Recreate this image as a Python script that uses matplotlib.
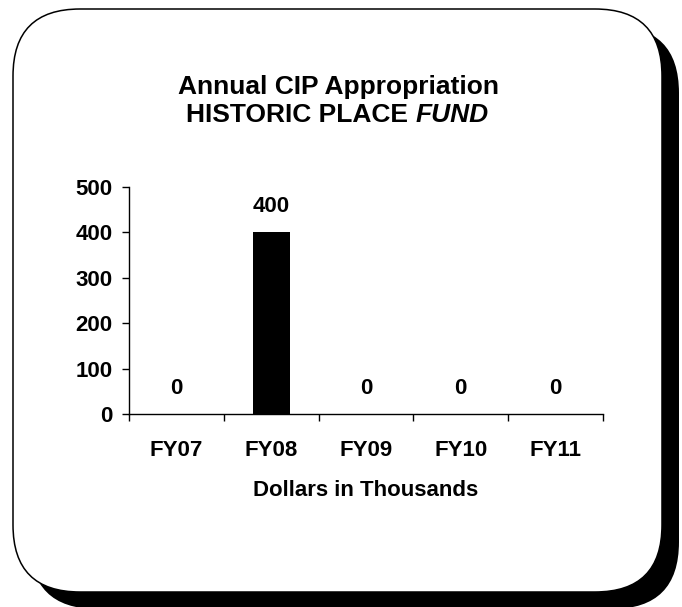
import matplotlib
matplotlib.use('agg')
import matplotlib.pyplot as plt
from matplotlib.patches import FancyBboxPatch
import numpy as np

plt.rcParams['font.family'] = ['Liberation Sans', 'DejaVu Sans']
plt.rcParams['font.weight'] = 'bold'

# data
years = ['FY07', 'FY08', 'FY09', 'FY10', 'FY11']
amounts = [0, 400, 0, 0, 0]
yticks = [0, 100, 200, 300, 400, 500]

W, H = 682, 607
fig = plt.figure(figsize=(W / 100, H / 100), dpi=100)

# background frame with shadow, drawn in pixel coords
bg = fig.add_axes([0, 0, 1, 1])
bg.set_xlim(0, W)
bg.set_ylim(H, 0)
bg.axis('off')
shadow = FancyBboxPatch((30, 26), 649, 583, boxstyle='round,pad=0,rounding_size=67',
                        fc='black', ec='black', lw=0)
frame = FancyBboxPatch((13, 9), 649, 583, boxstyle='round,pad=0,rounding_size=67',
                       fc='white', ec='black', lw=1.1)
bg.add_patch(shadow)
bg.add_patch(frame)

# title (second line has an italic word)
fs_title = 19
fig.text(338 / W, 1 - 94 / H, 'Annual CIP Appropriation', ha='center', va='baseline',
         fontsize=fs_title, fontweight='bold')
renderer = fig.canvas.get_renderer()
t1 = fig.text(0, 1 - 122 / H, 'HISTORIC PLACE ', ha='left', va='baseline',
              fontsize=fs_title, fontweight='bold')
t2 = fig.text(0, 1 - 122 / H, 'FUND', ha='left', va='baseline',
              fontsize=fs_title, fontweight='bold', style='italic')
w1 = t1.get_window_extent(renderer).width
w2 = t2.get_window_extent(renderer).width
x0 = 337 - (w1 + w2) / 2
t1.set_x(x0 / W)
t2.set_x((x0 + w1) / W)

# chart
fs = 16
ax = fig.add_axes([129 / W, 1 - 414 / H, (603 - 129) / W, (414 - 187) / H])
x = np.arange(len(years))
ax.bar(x, amounts, width=0.39, color='black')
for xi, v in zip(x, amounts):
    ax.annotate(str(v), (xi, v), xytext=(0, 14.4), textcoords='offset points',
                ha='center', va='baseline', fontsize=fs, fontweight='bold')

ax.set_xlim(-0.5, len(years) - 0.5)
ax.set_ylim(0, 500)
ax.set_yticks(yticks)
ax.set_xticks(x)
ax.set_xticklabels(years)
ax.set_xticks(np.arange(-0.5, len(years)), minor=True)
ax.tick_params(axis='x', which='major', length=0, pad=18.5, labelsize=fs)
ax.tick_params(axis='x', which='minor', length=5, width=1.0, direction='out')
ax.tick_params(axis='y', length=5, width=1.0, direction='out', labelsize=fs, pad=7)
for s in ['top', 'right']:
    ax.spines[s].set_visible(False)
for s in ['left', 'bottom']:
    ax.spines[s].set_linewidth(1.0)
ax.patch.set_alpha(0)
ax.set_xlabel('Dollars in Thousands', fontsize=fs, fontweight='bold', labelpad=14)

fig.savefig('out.png', dpi=100)
